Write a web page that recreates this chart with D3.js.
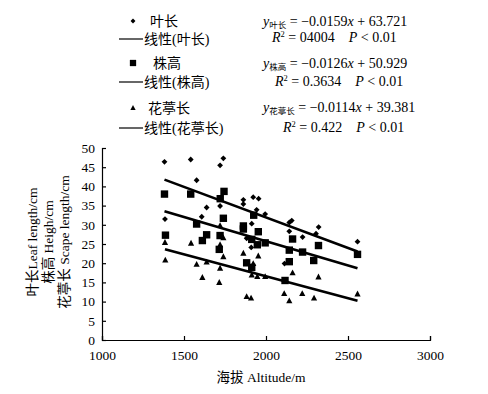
<!DOCTYPE html>
<html><head><meta charset="utf-8">
<script src="https://cdn.jsdelivr.net/npm/d3@7"></script>
<style>
body{margin:0;background:#fff;}
svg{display:block;}
text{font-family:"Liberation Serif","Times New Roman","Noto Sans CJK SC",serif;fill:#000;}
</style></head><body>
<svg id="c" width="488" height="394"></svg>
<script>
// ---- data ----
const seriesNames = ["叶长", "株高", "花葶长"];
const leafX = [1381,1541,1740,1720,1577,1638,1720,1608,1384,1862,1862,1922,1955,1943,1995,1913,1882,1910,2142,2157,2142,2223,2321,2305,2113,2558];
const leafY = [46.4,47.0,47.3,45.5,41.6,34.5,34.9,32.1,31.5,36.5,35.4,37.2,36.8,33.9,32.8,30.3,26.5,24.1,30.6,31.1,28.3,26.8,29.4,27.7,19.9,25.6];
const heightX = [1381,1541,1744,1721,1577,1740,1387,1638,1612,1720,1715,1925,1862,1862,1953,1913,1947,1995,1882,1913,2162,2142,2223,2142,2320,2291,2116,2558];
const heightY = [38.0,38.0,38.7,36.8,30.2,31.7,27.3,27.4,25.9,27.2,23.6,32.5,29.7,28.9,28.2,26.2,24.8,25.3,20.1,18.9,26.3,23.4,22.9,20.4,24.6,20.7,15.5,22.3];
const scapeX = [1384,1386,1543,1577,1638,1612,1720,1715,1740,1720,1740,1720,1862,1953,1922,1913,1947,1995,1882,1909,2162,2111,2142,2221,2293,2320,2558];
const scapeY = [25.4,20.8,25.2,19.7,20.3,16.3,18.7,15.0,26.6,24.8,21.7,29.8,22.6,21.9,19.9,16.9,16.5,16.5,11.3,10.9,17.5,12.1,10.2,12.1,10.9,16.4,12.0];
const slopes = [-0.0159, -0.0126, -0.0114];
const intercepts = [63.721, 50.929, 39.381];
const r2Labels = ["04004", "0.3634", "0.422"];
const xTicks = [1000,1500,2000,2500,3000];
const yTicks = [0,5,10,15,20,25,30,35,40,45,50];

const svg = d3.select("#c");
const x = d3.scaleLinear().domain([1000,3000]).range([102,430]);
const y = d3.scaleLinear().domain([0,50]).range([340,148]);

// marker shapes
function shape(kind, s){
  if(kind===0){ return `M0,${-s}L${s},0L0,${s}L${-s},0Z`; }
  if(kind===1){ return `M${-s},${-s}H${s}V${s}H${-s}Z`; }
  return `M0,${-s*1.1}L${s},${s*0.8}L${-s},${s*0.8}Z`;
}
const sizes = [2.9, 3.7, 3.1];
const data = [[leafX,leafY],[heightX,heightY],[scapeX,scapeY]];

// axes
const gx = svg.append("g").attr("transform","translate(0,340)")
  .call(d3.axisBottom(x).tickValues(xTicks).tickSize(-4).tickPadding(8).tickFormat(d3.format("d")));
const gy = svg.append("g").attr("transform","translate(102,0)")
  .call(d3.axisLeft(y).tickValues(yTicks).tickSize(-4).tickPadding(7));
[gx,gy].forEach(g=>{
  g.select(".domain").attr("stroke","#000").attr("stroke-width",1.2);
  g.selectAll(".tick line").attr("stroke","#000").attr("stroke-width",1.2);
  g.selectAll("text").attr("font-size",13.5).attr("font-family","Liberation Serif, serif").attr("fill","#000");
});
gx.selectAll("text").attr("dy","0.9em");

// regression lines
data.forEach((d,i)=>{
  const [xs] = d;
  const x0 = d3.min(xs), x1 = d3.max(xs);
  svg.append("line")
    .attr("x1",x(x0)).attr("y1",y(slopes[i]*x0+intercepts[i]))
    .attr("x2",x(x1)).attr("y2",y(slopes[i]*x1+intercepts[i]))
    .attr("stroke","#000").attr("stroke-width",2.6);
});

// points
data.forEach((d,i)=>{
  const [xs,ys] = d;
  svg.append("g").selectAll("path").data(xs.map((v,j)=>[v,ys[j]])).join("path")
    .attr("transform",p=>`translate(${x(p[0])},${y(p[1])})`)
    .attr("d",shape(i,sizes[i])).attr("fill","#000");
});

// axis titles
const yl = svg.append("text").attr("transform","translate(0,242) rotate(-90)")
  .attr("text-anchor","middle").attr("font-size",13.5);
const ylines = ["叶长Leaf length/cm","株高 Heigh/cm","花葶长 Scape length/cm"];
const ylx = [37,53,69];
ylines.forEach((t,i)=>{
  yl.append("tspan").attr("x",0).attr("y",ylx[i]).text(t);
});
svg.append("text").attr("x",261).attr("y",382).attr("text-anchor","middle")
  .attr("font-size",13.5).text("海拔 Altitude/m");

// legend
const legY = [21, 63, 108];
const legLineY = [39, 82, 128];
const legTextX = [150, 153, 148];
legY.forEach((ly,i)=>{
  svg.append("path").attr("transform",`translate(133,${ly})`).attr("d",shape(i,sizes[i]*0.85)).attr("fill","#000");
  svg.append("text").attr("x",legTextX[i]).attr("y",ly+5).attr("font-size",14).text(seriesNames[i]);
  svg.append("line").attr("x1",119).attr("x2",143).attr("y1",legLineY[i]).attr("y2",legLineY[i])
    .attr("stroke","#000").attr("stroke-width",1.2);
  svg.append("text").attr("x",144).attr("y",legLineY[i]+5).attr("font-size",14).text(`线性(${seriesNames[i]})`);
});

// equations
const eqY = [21, 63, 107];
const r2Y = [37, 81, 127];
const r2X = [272, 275, 283];
eqY.forEach((ey,i)=>{
  const t = svg.append("text").attr("x",263).attr("y",ey+5).attr("font-size",14);
  t.append("tspan").attr("font-style","italic").text("y");
  t.append("tspan").attr("font-size",8.5).attr("dy",1.5).text(seriesNames[i]);
  t.append("tspan").attr("dy",-1.5).text(` = −${Math.abs(slopes[i])}`);
  t.append("tspan").attr("font-style","italic").text("x");
  t.append("tspan").text(` + ${intercepts[i]}`);
  const r = svg.append("text").attr("x",r2X[i]).attr("y",r2Y[i]+5).attr("font-size",14);
  r.append("tspan").attr("font-style","italic").text("R");
  r.append("tspan").attr("font-size",8.5).attr("dy",-5).text("2");
  r.append("tspan").attr("dy",5).text(` = ${r2Labels[i]}`);
  r.append("tspan").attr("dx",14).attr("font-style","italic").text("P");
  r.append("tspan").text(" < 0.01");
});
</script>
</body></html>
